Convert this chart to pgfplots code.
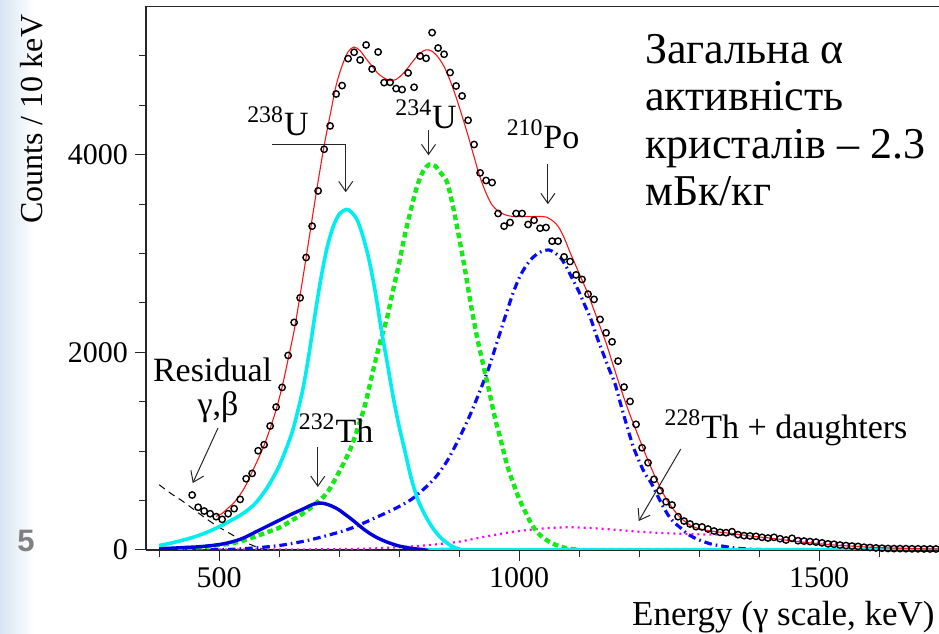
\documentclass[border=0pt]{standalone}
\usepackage{fontspec}
\setmainfont{Liberation Serif}
\newfontfamily\notefamily{Liberation Serif}
\newfontfamily\slidefont{Liberation Sans}
\usepackage{pgfplots}
\pgfplotsset{compat=1.18}
\usetikzlibrary{arrows.meta}

\definecolor{fitred}{RGB}{255,20,20}
\definecolor{ucyan}{RGB}{0,238,240}
\definecolor{ugreen}{RGB}{20,235,20}
\definecolor{pblue}{RGB}{10,10,250}
\definecolor{thblue}{RGB}{0,0,220}
\definecolor{thmag}{RGB}{255,0,255}
\definecolor{slideblue}{RGB}{214,228,244}

\newcommand{\ann}{\fontsize{17}{17}\selectfont}
\newcommand{\notefont}{\notefamily\fontsize{22}{22}\selectfont}

\tikzset{callout/.style={draw=black!85, line width=0.5pt, -{Straight Barb[length=5pt,width=7pt]}}}

\begin{document}
\begin{tikzpicture}
% slide background strip on the left
\shade[left color=slideblue, right color=white] (-73pt,-42pt) rectangle (-56pt,275.05pt);
\node[font=\slidefont\bfseries\fontsize{15.5}{15.5}\selectfont, text=black!50] at (-60pt,4.5pt) {5};

\begin{axis}[
  at={(0,0)}, anchor=south west, name=ax,
  scale only axis, width=396.6pt, height=271.9pt,
  xmin=378, xmax=1700, ymin=0, ymax=5500,
  axis lines*=left,
  axis line style={-, line width=0.6pt, black!85},
  clip mode=individual,
  xtick={500,1000,1500},
  minor xtick={400,600,700,800,900,1100,1200,1300,1400,1600,1700},
  ytick={0,2000,4000},
  minor ytick={500,1000,1500,2500,3000,3500,4500,5000},
  tick align=outside,
  major tick length=5.5pt, minor tick length=3.5pt,
  tick style={line width=0.5pt, black!85},
  scaled ticks=false,
  /pgf/number format/1000 sep={},
  /pgf/number format/assume math mode=true,
  tick label style={font=\fontsize{15}{15}\selectfont},
  xlabel={Energy (γ scale, keV)},
  xlabel style={at={(axis description cs:0.995,-0.138)}, anchor=base east,
    font=\fontsize{17.5}{17.5}\selectfont, inner sep=0pt},
  ylabel={Counts / 10 keV},
  ylabel style={at={(axis description cs:-0.144,0.985)}, anchor=east,
    font=\fontsize{16}{16}\selectfont, inner sep=0pt},
]

% residual gamma/beta background
\addplot[black, line width=0.5pt, dash pattern=on 3.5pt off 2.5pt, smooth] table {
400 660
420 570
440 490
460 400
480 310
500 230
520 160
540 90
560 35
570 15
580 5
600 0
1700 0
};

% 228Th + daughters
\addplot[thmag, line width=1.1pt, dash pattern=on 1pt off 2pt, smooth] table {
400 3
500 4
600 5
650 6
700 9
750 14
800 28
850 50
900 84
950 143
1000 192
1050 222
1085 230
1120 222
1160 205
1200 185
1250 168
1300 158
1350 152
1400 120
1450 102
1500 75
1550 44
1600 24
1650 13
1700 6
};

% 210Po
\addplot[pblue, line width=1.6pt, dash pattern=on 3.8pt off 2pt on 0.8pt off 2pt, smooth] table {
400 0
500 3
550 17
600 45
650 100
700 180
720 220
740 270
760 325
780 380
800 440
820 510
840 610
860 730
880 900
900 1130
920 1390
940 1690
950 1850
960 2040
970 2230
980 2420
990 2600
1000 2750
1010 2860
1020 2940
1030 2995
1040 3025
1050 3035
1060 3005
1070 2950
1080 2850
1090 2730
1100 2610
1110 2470
1120 2330
1130 2150
1140 1990
1150 1830
1160 1680
1170 1460
1180 1250
1190 1050
1200 900
1210 770
1220 680
1230 560
1240 440
1250 340
1260 270
1270 220
1280 165
1290 130
1300 102
1320 60
1340 38
1360 20
1380 10
1400 5
1440 0
1700 0
};

% 234U
\addplot[ugreen, line width=2.2pt, dash pattern=on 2.8pt off 1.8pt, smooth] table {
400 5
420 10
440 17
460 25
480 35
500 50
520 65
540 95
560 135
580 180
600 225
620 295
640 370
660 465
680 580
700 790
720 1040
740 1400
750 1640
760 1900
770 2140
780 2350
790 2630
800 2900
810 3200
820 3450
830 3680
840 3830
850 3900
860 3885
870 3810
880 3720
890 3470
900 3160
910 2830
920 2470
930 2150
940 1880
950 1610
960 1330
970 1100
980 860
990 680
1000 520
1010 390
1020 270
1030 180
1040 125
1050 85
1060 55
1070 32
1080 17
1090 8
1100 3
1120 0
1700 0
};

% 232Th
\addplot[thblue, line width=1.7pt, smooth] table {
400 15
420 18
440 25
460 30
480 40
500 55
520 80
540 120
560 180
580 240
600 300
620 360
640 415
650 445
660 468
670 475
680 462
690 438
700 405
710 360
720 315
730 265
740 215
750 172
760 135
770 105
780 80
790 58
800 40
810 28
820 17
830 10
840 5
850 2
860 0
1700 0
};

% 238U
\addplot[ucyan, line width=1.8pt, smooth] table {
400 45
420 70
440 100
460 135
480 180
500 235
520 300
540 370
560 470
580 630
600 850
620 1160
630 1380
640 1640
650 1990
660 2390
670 2760
680 3060
690 3270
700 3395
712 3445
720 3420
730 3340
740 3167
750 2930
760 2620
770 2240
780 1900
790 1550
800 1250
810 990
820 730
830 530
840 390
850 280
860 190
870 120
880 70
890 32
900 10
910 0
1700 0
};

% total fit
\addplot[fitred, line width=0.55pt, smooth] table {
495 340
505 370
515 425
525 480
535 560
545 660
555 790
565 920
575 1060
585 1230
595 1420
605 1650
615 1930
625 2220
635 2580
645 2960
655 3350
665 3730
675 4090
685 4400
695 4700
705 4900
715 5040
725 5088
735 5050
745 4970
755 4895
765 4820
775 4775
785 4748
795 4760
805 4810
815 4880
825 4960
835 5025
845 5060
855 5045
865 4985
875 4890
885 4750
895 4580
905 4390
915 4190
925 3975
935 3770
945 3610
955 3490
965 3430
975 3395
985 3378
995 3372
1005 3372
1015 3372
1025 3374
1035 3374
1045 3368
1055 3335
1065 3275
1075 3160
1085 3010
1095 2870
1105 2730
1115 2590
1125 2425
1135 2260
1145 2095
1155 1905
1165 1715
1175 1535
1185 1365
1195 1210
1205 1055
1215 905
1225 765
1235 635
1245 520
1255 430
1265 352
1275 295
1285 252
1295 225
1305 208
1315 196
1325 188
1335 180
1345 173
1355 166
1365 158
1375 150
1385 142
1395 135
1405 129
1415 123
1425 116
1435 108
1445 100
1455 92
1465 85
1475 78
1485 72
1495 66
1505 60
1525 50
1545 42
1565 35
1585 28
1605 23
1625 19
1645 16
1665 13
1685 11
1700 10
};

% measured spectrum
\addplot[only marks, mark=o, mark size=1.6pt, mark options={line width=0.7pt, black}] table {
455 556
465 432
475 394
485 367
495 337
505 310
515 367
525 418
535 512
545 721
555 775
565 1004
575 1065
585 1254
595 1446
605 1645
615 1968
625 2302
635 2551
645 2959
655 3276
665 3633
675 4054
685 4290
695 4613
705 4698
715 4971
725 5035
735 4957
745 5109
755 4866
765 5038
775 4728
785 4731
795 4668
805 4658
815 4826
825 4681
835 4997
845 4974
855 5234
865 5078
875 5015
885 4830
895 4694
905 4593
915 4347
925 4102
935 3815
945 3738
955 3717
965 3404
975 3276
985 3313
995 3404
1005 3404
1015 3293
1025 3336
1035 3255
1045 3262
1055 3124
1065 3124
1075 2965
1085 2918
1095 2783
1105 2737
1115 2588
1125 2535
1135 2332
1145 2197
1155 2106
1165 1911
1175 1648
1185 1503
1195 1271
1205 1034
1215 883
1225 715
1235 600
1245 488
1255 455
1265 337
1275 293
1285 263
1295 236
1305 233
1315 212
1325 192
1335 179
1345 175
1355 185
1365 155
1375 145
1385 142
1395 138
1405 128
1415 121
1425 128
1435 114
1445 101
1455 118
1465 94
1475 90
1485 85
1495 80
1505 72
1515 62
1525 58
1535 50
1545 45
1555 40
1565 36
1575 28
1585 25
1595 21
1605 18
1615 15
1625 14
1635 14
1645 13
1655 12
1665 12
1675 11
1685 10
1695 10
};

% component labels
\node[anchor=base, font=\ann] at (axis cs:489,1709) {Residual};
\node[anchor=base, font=\ann] at (axis cs:498,1365) {γ,β};
\draw[callout] (axis cs:498,1233) -- (axis cs:456,677);

\node[anchor=base, font=\ann] at (axis cs:598,4196) {\textsuperscript{238}U};
\draw[callout] (axis cs:588,4105) -- (axis cs:711,4105) -- (axis cs:711,3619);

\node[anchor=base, font=\ann] at (axis cs:845,4266) {\textsuperscript{234}U};
\draw[callout] (axis cs:849,4246) -- (axis cs:849,3993);

\node[anchor=base, font=\ann] at (axis cs:1040,4064) {\textsuperscript{210}Po};
\draw[callout] (axis cs:1048,3902) -- (axis cs:1048,3498);

\node[anchor=base, font=\ann] at (axis cs:695,1092) {\textsuperscript{232}Th};
\draw[callout] (axis cs:664.5,1041) -- (axis cs:664.5,637);

\node[anchor=base, font=\ann] at (axis cs:1445,1132) {\textsuperscript{228}Th + daughters};
\draw[callout] (axis cs:1269.5,1021) -- (axis cs:1199.5,293);

% total activity note
\node[anchor=base west, inner sep=0pt, font=\notefont] at (axis cs:1209.5,4924) {Загальна α};
\node[anchor=base west, inner sep=0pt, font=\notefont] at (axis cs:1209.5,4449) {активність};
\node[anchor=base west, inner sep=0pt, font=\notefont] at (axis cs:1209.5,3964) {кристалів – 2.3};
\node[anchor=base west, inner sep=0pt, font=\notefont] at (axis cs:1209.5,3488) {мБк/кг};
\end{axis}

% upper frame line
\draw[line width=0.6pt, black!85] (ax.north west) -- (ax.north east);

\pgfresetboundingbox
\useasboundingbox (-73pt,-42pt) rectangle (396.6pt,275.05pt);
\end{tikzpicture}
\end{document}
